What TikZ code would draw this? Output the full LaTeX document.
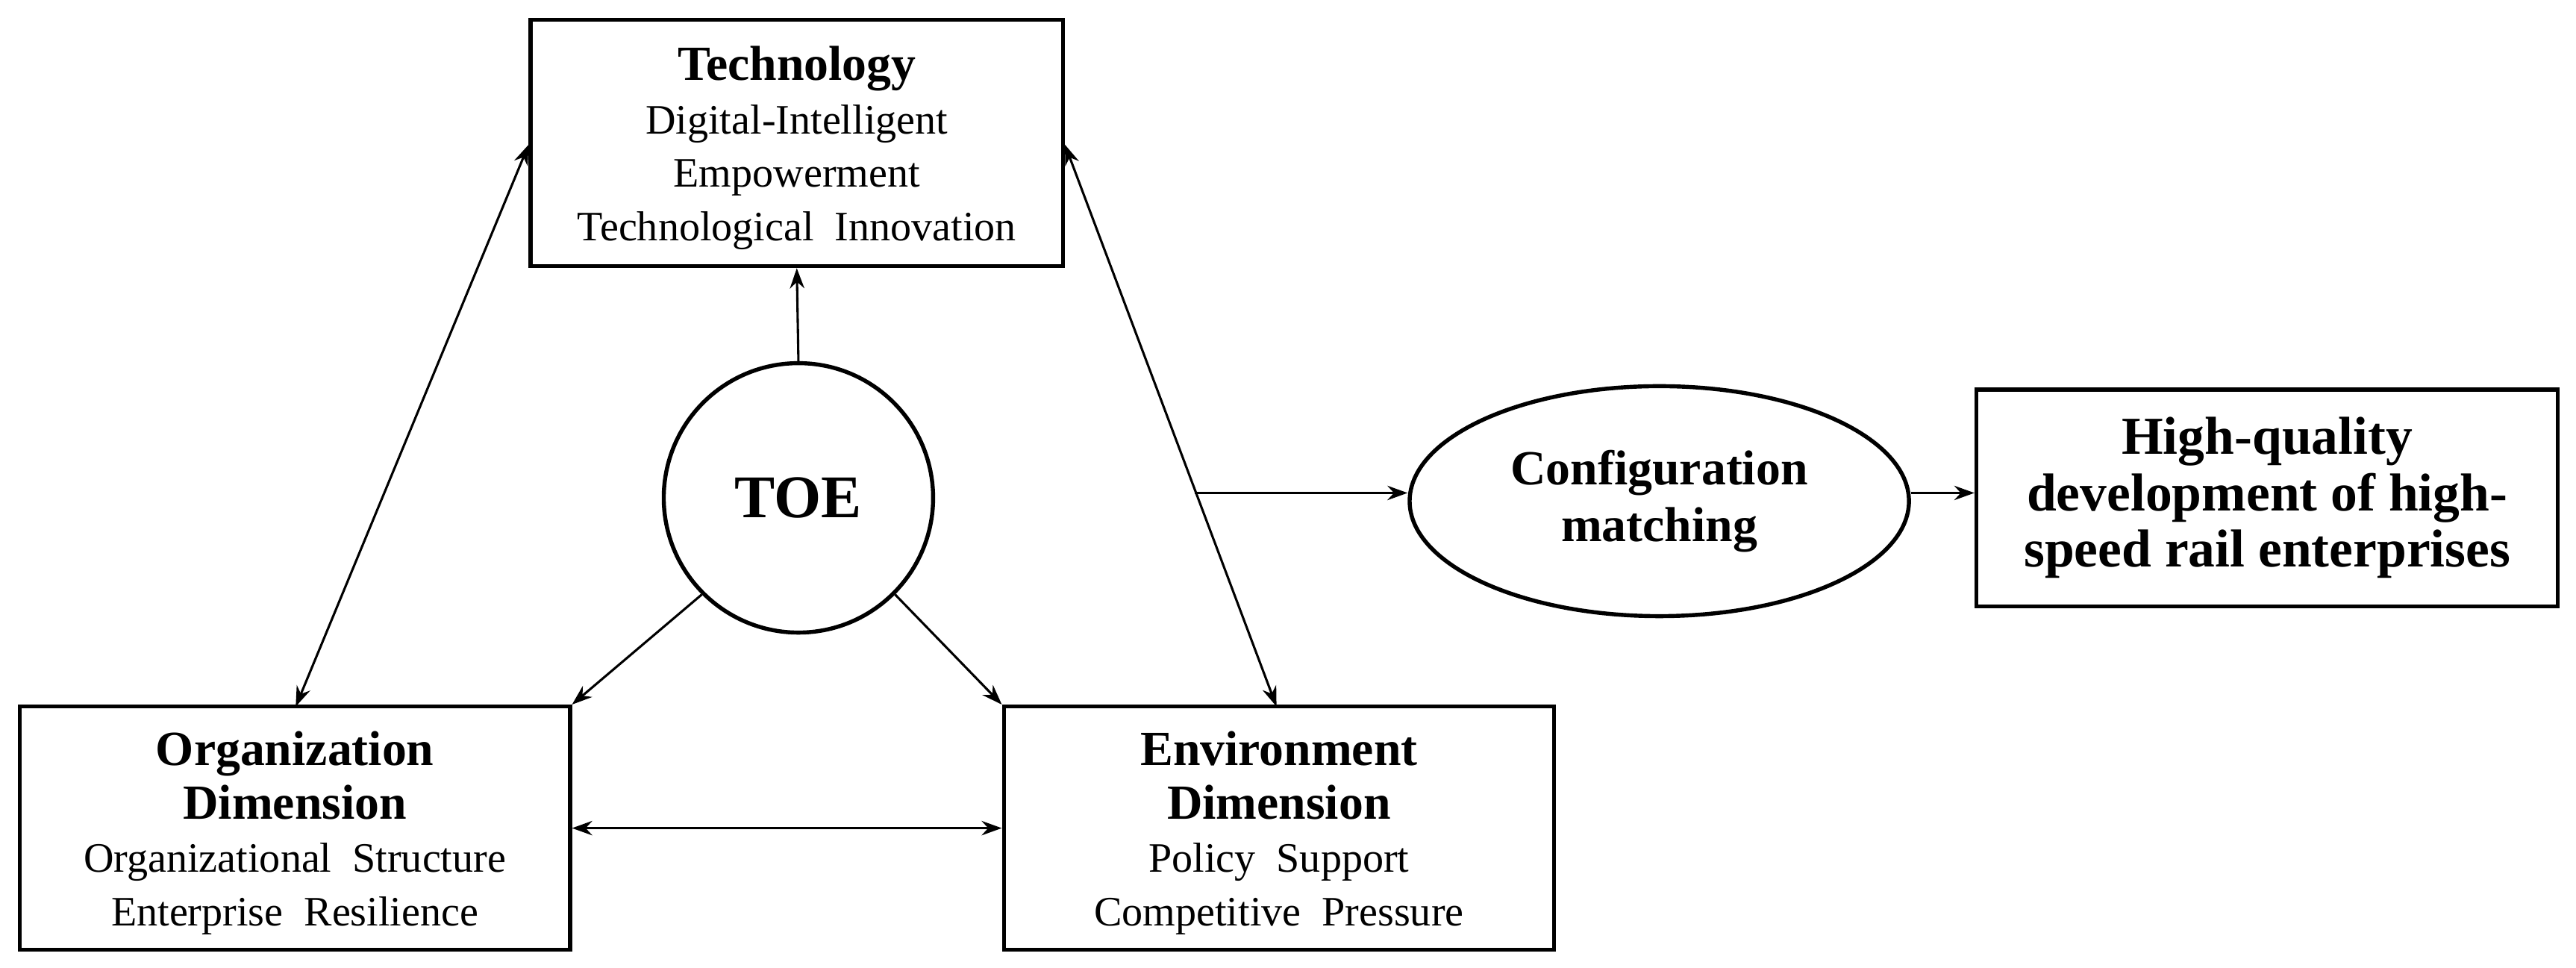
\documentclass[tikz,border=0pt]{standalone}
\usepackage{fontspec}
\setmainfont{Liberation Serif}
\usetikzlibrary{arrows.meta,shapes.geometric}
\begin{document}
\begin{tikzpicture}[x=0.02cm,y=-0.02cm,
  box/.style={draw,line width=1.4pt,inner sep=0pt},
  arr/.style={-{Stealth[length=7pt,width=5pt]},line width=0.8pt},
  darr/.style={{Stealth[length=7pt,width=5pt]}-{Stealth[length=7pt,width=5pt]},line width=0.8pt},
  txt/.style={align=center,font=\fontsize{14.5}{18.5}\selectfont}]
\newcommand\ttlf{\fontsize{17}{18.5}\selectfont\bfseries}
\useasboundingbox (0,0) rectangle (1568,589);
\node[box,minimum width=6.48cm,minimum height=3cm] (tech) at (485,87) {};
\node[txt] (techt) at (485,90) {{\ttlf Technology}\\Digital-Intelligent\\Empowerment\\Technological\ \ Innovation};
\node[box,circle,minimum size=3.28cm,font=\fontsize{21}{24}\selectfont\bfseries] (toe) at (486,303) {TOE};
\node[box,minimum width=6.7cm,minimum height=2.96cm] (org) at (179.5,504) {};
\node[txt] (orgt) at (179.5,507) {{\ttlf Organization}\\{\ttlf Dimension}\\Organizational\ \ Structure\\Enterprise\ \ Resilience};
\node[box,minimum width=6.7cm,minimum height=2.96cm] (env) at (778.5,504) {};
\node[txt] (envt) at (778.5,507) {{\ttlf Environment}\\{\ttlf Dimension}\\Policy\ \ Support\\Competitive\ \ Pressure};
\node[box,ellipse,minimum width=6.08cm,minimum height=2.8cm,align=center,font=\fontsize{17}{19.5}\selectfont\bfseries] (conf) at (1010,305) {Configuration\\matching};
\node[box,minimum width=7.08cm,minimum height=2.64cm,align=center,font=\fontsize{18.5}{19.5}\selectfont\bfseries] (hq) at (1380,303) {High-quality\\development of high-\\speed rail enterprises};
\coordinate (s) at (727,300);
\draw[arr] (toe.north) -- (tech.south);
\draw[arr] (toe.225) -- (org.north east);
\draw[arr] (toe.315) -- (env.north west);
\draw[darr] (org.east) -- (env.west);
\draw[darr] (tech.west|-0,88) -- (180,430);
\draw[darr] (tech.east|-0,88) -- (777,430);
\draw[arr] (s) -- (conf.west|-s);
\draw[arr] (conf.east|-s) -- (hq.west|-s);
\end{tikzpicture}
\end{document}
